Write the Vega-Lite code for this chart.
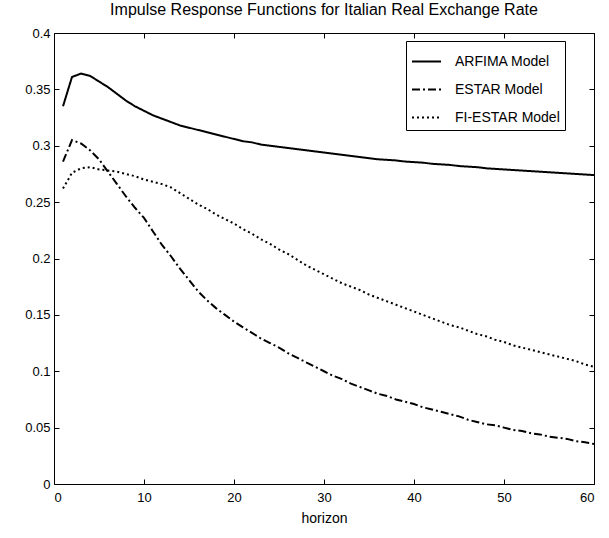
{
  "$schema": "https://vega.github.io/schema/vega-lite/v6.json",
  "width": 540,
  "height": 451,
  "autosize": {"type": "none"},
  "padding": {"left": 54, "top": 33, "right": 15, "bottom": 54},
  "background": "white",
  "config": {
    "view": {"stroke": "black", "strokeWidth": 1},
    "font": "Liberation Sans",
    "axis": {"labelFont": "Liberation Sans", "titleFont": "Liberation Sans", "labelColor": "black", "titleColor": "black", "grid": false, "domain": false, "tickColor": "black", "tickSize": 5, "tickWidth": 1, "labelFontSize": 13, "titleFontWeight": "normal", "titleFontSize": 14}
  },
  "title": {"text": "Impulse Response Functions for Italian Real Exchange Rate", "font": "Liberation Sans", "fontSize": 16, "fontWeight": "normal", "color": "black", "offset": 9},
  "datasets": {
    "irf": [
      {"h":1,"model":"ARFIMA Model","v":0.335},{"h":2,"model":"ARFIMA Model","v":0.361},{"h":3,"model":"ARFIMA Model","v":0.364},{"h":4,"model":"ARFIMA Model","v":0.362},{"h":5,"model":"ARFIMA Model","v":0.357},{"h":6,"model":"ARFIMA Model","v":0.352},{"h":7,"model":"ARFIMA Model","v":0.346},{"h":8,"model":"ARFIMA Model","v":0.340},{"h":9,"model":"ARFIMA Model","v":0.335},{"h":10,"model":"ARFIMA Model","v":0.331},
      {"h":11,"model":"ARFIMA Model","v":0.327},{"h":12,"model":"ARFIMA Model","v":0.324},{"h":13,"model":"ARFIMA Model","v":0.321},{"h":14,"model":"ARFIMA Model","v":0.318},{"h":15,"model":"ARFIMA Model","v":0.316},{"h":16,"model":"ARFIMA Model","v":0.314},{"h":17,"model":"ARFIMA Model","v":0.312},{"h":18,"model":"ARFIMA Model","v":0.310},{"h":19,"model":"ARFIMA Model","v":0.308},{"h":20,"model":"ARFIMA Model","v":0.306},
      {"h":21,"model":"ARFIMA Model","v":0.304},{"h":22,"model":"ARFIMA Model","v":0.303},{"h":23,"model":"ARFIMA Model","v":0.301},{"h":24,"model":"ARFIMA Model","v":0.300},{"h":25,"model":"ARFIMA Model","v":0.299},{"h":26,"model":"ARFIMA Model","v":0.298},{"h":27,"model":"ARFIMA Model","v":0.297},{"h":28,"model":"ARFIMA Model","v":0.296},{"h":29,"model":"ARFIMA Model","v":0.295},{"h":30,"model":"ARFIMA Model","v":0.294},
      {"h":31,"model":"ARFIMA Model","v":0.293},{"h":32,"model":"ARFIMA Model","v":0.292},{"h":33,"model":"ARFIMA Model","v":0.291},{"h":34,"model":"ARFIMA Model","v":0.290},{"h":35,"model":"ARFIMA Model","v":0.289},{"h":36,"model":"ARFIMA Model","v":0.288},{"h":37,"model":"ARFIMA Model","v":0.2875},{"h":38,"model":"ARFIMA Model","v":0.287},{"h":39,"model":"ARFIMA Model","v":0.286},{"h":40,"model":"ARFIMA Model","v":0.2855},
      {"h":41,"model":"ARFIMA Model","v":0.285},{"h":42,"model":"ARFIMA Model","v":0.284},{"h":43,"model":"ARFIMA Model","v":0.2835},{"h":44,"model":"ARFIMA Model","v":0.283},{"h":45,"model":"ARFIMA Model","v":0.282},{"h":46,"model":"ARFIMA Model","v":0.2815},{"h":47,"model":"ARFIMA Model","v":0.281},{"h":48,"model":"ARFIMA Model","v":0.280},{"h":49,"model":"ARFIMA Model","v":0.2795},{"h":50,"model":"ARFIMA Model","v":0.279},
      {"h":51,"model":"ARFIMA Model","v":0.2785},{"h":52,"model":"ARFIMA Model","v":0.278},{"h":53,"model":"ARFIMA Model","v":0.2775},{"h":54,"model":"ARFIMA Model","v":0.277},{"h":55,"model":"ARFIMA Model","v":0.2765},{"h":56,"model":"ARFIMA Model","v":0.276},{"h":57,"model":"ARFIMA Model","v":0.2755},{"h":58,"model":"ARFIMA Model","v":0.275},{"h":59,"model":"ARFIMA Model","v":0.2745},{"h":60,"model":"ARFIMA Model","v":0.274},

      {"h":1,"model":"ESTAR Model","v":0.286},{"h":2,"model":"ESTAR Model","v":0.305},{"h":3,"model":"ESTAR Model","v":0.302},{"h":4,"model":"ESTAR Model","v":0.296},{"h":5,"model":"ESTAR Model","v":0.288},{"h":6,"model":"ESTAR Model","v":0.277},{"h":7,"model":"ESTAR Model","v":0.266},{"h":8,"model":"ESTAR Model","v":0.255},{"h":9,"model":"ESTAR Model","v":0.245},{"h":10,"model":"ESTAR Model","v":0.236},
      {"h":11,"model":"ESTAR Model","v":0.224},{"h":12,"model":"ESTAR Model","v":0.212},{"h":13,"model":"ESTAR Model","v":0.202},{"h":14,"model":"ESTAR Model","v":0.191},{"h":15,"model":"ESTAR Model","v":0.181},{"h":16,"model":"ESTAR Model","v":0.171},{"h":17,"model":"ESTAR Model","v":0.163},{"h":18,"model":"ESTAR Model","v":0.156},{"h":19,"model":"ESTAR Model","v":0.150},{"h":20,"model":"ESTAR Model","v":0.144},
      {"h":21,"model":"ESTAR Model","v":0.139},{"h":22,"model":"ESTAR Model","v":0.134},{"h":23,"model":"ESTAR Model","v":0.129},{"h":24,"model":"ESTAR Model","v":0.125},{"h":25,"model":"ESTAR Model","v":0.121},{"h":26,"model":"ESTAR Model","v":0.116},{"h":27,"model":"ESTAR Model","v":0.112},{"h":28,"model":"ESTAR Model","v":0.108},{"h":29,"model":"ESTAR Model","v":0.104},{"h":30,"model":"ESTAR Model","v":0.100},
      {"h":31,"model":"ESTAR Model","v":0.096},{"h":32,"model":"ESTAR Model","v":0.093},{"h":33,"model":"ESTAR Model","v":0.089},{"h":34,"model":"ESTAR Model","v":0.086},{"h":35,"model":"ESTAR Model","v":0.083},{"h":36,"model":"ESTAR Model","v":0.080},{"h":37,"model":"ESTAR Model","v":0.078},{"h":38,"model":"ESTAR Model","v":0.075},{"h":39,"model":"ESTAR Model","v":0.073},{"h":40,"model":"ESTAR Model","v":0.071},
      {"h":41,"model":"ESTAR Model","v":0.068},{"h":42,"model":"ESTAR Model","v":0.066},{"h":43,"model":"ESTAR Model","v":0.064},{"h":44,"model":"ESTAR Model","v":0.062},{"h":45,"model":"ESTAR Model","v":0.060},{"h":46,"model":"ESTAR Model","v":0.057},{"h":47,"model":"ESTAR Model","v":0.055},{"h":48,"model":"ESTAR Model","v":0.053},{"h":49,"model":"ESTAR Model","v":0.052},{"h":50,"model":"ESTAR Model","v":0.050},
      {"h":51,"model":"ESTAR Model","v":0.048},{"h":52,"model":"ESTAR Model","v":0.047},{"h":53,"model":"ESTAR Model","v":0.045},{"h":54,"model":"ESTAR Model","v":0.044},{"h":55,"model":"ESTAR Model","v":0.042},{"h":56,"model":"ESTAR Model","v":0.041},{"h":57,"model":"ESTAR Model","v":0.040},{"h":58,"model":"ESTAR Model","v":0.038},{"h":59,"model":"ESTAR Model","v":0.037},{"h":60,"model":"ESTAR Model","v":0.0355},

      {"h":1,"model":"FI-ESTAR Model","v":0.262},{"h":2,"model":"FI-ESTAR Model","v":0.276},{"h":3,"model":"FI-ESTAR Model","v":0.280},{"h":4,"model":"FI-ESTAR Model","v":0.281},{"h":5,"model":"FI-ESTAR Model","v":0.279},{"h":6,"model":"FI-ESTAR Model","v":0.278},{"h":7,"model":"FI-ESTAR Model","v":0.277},{"h":8,"model":"FI-ESTAR Model","v":0.275},{"h":9,"model":"FI-ESTAR Model","v":0.273},{"h":10,"model":"FI-ESTAR Model","v":0.270},
      {"h":11,"model":"FI-ESTAR Model","v":0.268},{"h":12,"model":"FI-ESTAR Model","v":0.266},{"h":13,"model":"FI-ESTAR Model","v":0.263},{"h":14,"model":"FI-ESTAR Model","v":0.258},{"h":15,"model":"FI-ESTAR Model","v":0.253},{"h":16,"model":"FI-ESTAR Model","v":0.248},{"h":17,"model":"FI-ESTAR Model","v":0.244},{"h":18,"model":"FI-ESTAR Model","v":0.239},{"h":19,"model":"FI-ESTAR Model","v":0.235},{"h":20,"model":"FI-ESTAR Model","v":0.231},
      {"h":21,"model":"FI-ESTAR Model","v":0.226},{"h":22,"model":"FI-ESTAR Model","v":0.222},{"h":23,"model":"FI-ESTAR Model","v":0.217},{"h":24,"model":"FI-ESTAR Model","v":0.213},{"h":25,"model":"FI-ESTAR Model","v":0.208},{"h":26,"model":"FI-ESTAR Model","v":0.204},{"h":27,"model":"FI-ESTAR Model","v":0.199},{"h":28,"model":"FI-ESTAR Model","v":0.194},{"h":29,"model":"FI-ESTAR Model","v":0.190},{"h":30,"model":"FI-ESTAR Model","v":0.186},
      {"h":31,"model":"FI-ESTAR Model","v":0.182},{"h":32,"model":"FI-ESTAR Model","v":0.178},{"h":33,"model":"FI-ESTAR Model","v":0.175},{"h":34,"model":"FI-ESTAR Model","v":0.172},{"h":35,"model":"FI-ESTAR Model","v":0.168},{"h":36,"model":"FI-ESTAR Model","v":0.165},{"h":37,"model":"FI-ESTAR Model","v":0.162},{"h":38,"model":"FI-ESTAR Model","v":0.159},{"h":39,"model":"FI-ESTAR Model","v":0.156},{"h":40,"model":"FI-ESTAR Model","v":0.153},
      {"h":41,"model":"FI-ESTAR Model","v":0.150},{"h":42,"model":"FI-ESTAR Model","v":0.147},{"h":43,"model":"FI-ESTAR Model","v":0.144},{"h":44,"model":"FI-ESTAR Model","v":0.141},{"h":45,"model":"FI-ESTAR Model","v":0.139},{"h":46,"model":"FI-ESTAR Model","v":0.136},{"h":47,"model":"FI-ESTAR Model","v":0.133},{"h":48,"model":"FI-ESTAR Model","v":0.131},{"h":49,"model":"FI-ESTAR Model","v":0.128},{"h":50,"model":"FI-ESTAR Model","v":0.126},
      {"h":51,"model":"FI-ESTAR Model","v":0.123},{"h":52,"model":"FI-ESTAR Model","v":0.121},{"h":53,"model":"FI-ESTAR Model","v":0.119},{"h":54,"model":"FI-ESTAR Model","v":0.117},{"h":55,"model":"FI-ESTAR Model","v":0.115},{"h":56,"model":"FI-ESTAR Model","v":0.113},{"h":57,"model":"FI-ESTAR Model","v":0.111},{"h":58,"model":"FI-ESTAR Model","v":0.109},{"h":59,"model":"FI-ESTAR Model","v":0.106},{"h":60,"model":"FI-ESTAR Model","v":0.104}
    ]
  },
  "data": {"name": "irf"},
  "layer": [
    {
      "mark": {"type": "line", "color": "black", "strokeWidth": 2},
      "encoding": {
        "x": {"field": "h", "type": "quantitative", "scale": {"domain": [0, 60], "nice": false, "zero": false},
              "axis": {"values": [0,10,20,30,40,50,60], "title": "horizon", "ticks": false, "labelPadding": 7, "titlePadding": 7, "format": "d"}},
        "y": {"field": "v", "type": "quantitative", "scale": {"domain": [0, 0.4], "nice": false},
              "axis": {"values": [0,0.05,0.1,0.15,0.2,0.25,0.3,0.35,0.4], "title": null, "ticks": false, "labelPadding": 4, "format": "~g"}},
        "strokeDash": {"field": "model", "type": "nominal",
          "scale": {"domain": ["ARFIMA Model", "ESTAR Model", "FI-ESTAR Model"], "range": [[1, 0], [8, 3, 2, 3], [2, 3]]},
          "legend": {"title": null, "orient": "none", "legendX": 352, "legendY": 8, "fillColor": "white", "strokeColor": "black", "padding": 5,
                     "symbolType": "stroke", "symbolSize": 841, "symbolStrokeWidth": 2, "symbolStrokeColor": "black",
                     "labelFont": "Liberation Sans", "labelFontSize": 14, "labelColor": "black", "labelOffset": 13, "rowPadding": 5, "labelLimit": 300}}
      }
    },
    {
      "mark": {"type": "line", "opacity": 0},
      "encoding": {
        "x": {"field": "h", "type": "quantitative", "axis": {"orient": "bottom", "offset": -5, "values": [0,10,20,30,40,50,60], "labels": false, "title": null}},
        "y": {"field": "v", "type": "quantitative", "axis": {"orient": "left", "offset": -5, "values": [0,0.05,0.1,0.15,0.2,0.25,0.3,0.35,0.4], "labels": false, "title": null}},
        "detail": {"field": "model"}
      }
    },
    {
      "mark": {"type": "line", "opacity": 0},
      "encoding": {
        "x": {"field": "h", "type": "quantitative", "axis": {"orient": "top", "offset": -5, "values": [0,10,20,30,40,50,60], "labels": false, "title": null}},
        "y": {"field": "v", "type": "quantitative", "axis": {"orient": "right", "offset": -5, "values": [0,0.05,0.1,0.15,0.2,0.25,0.3,0.35,0.4], "labels": false, "title": null}},
        "detail": {"field": "model"}
      }
    }
  ],
  "resolve": {"axis": {"x": "independent", "y": "independent"}}
}
